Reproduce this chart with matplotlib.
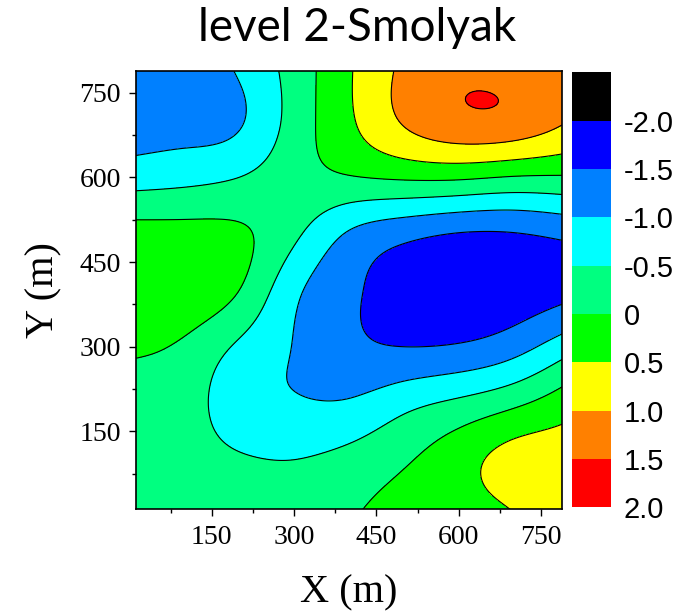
import matplotlib
matplotlib.use("Agg")
import matplotlib.pyplot as plt
import numpy as np
from matplotlib.colors import ListedColormap, BoundaryNorm
from matplotlib.ticker import MultipleLocator

# sampled field values, one row per y node (top row first)
x_nodes = [12, 100, 200, 300, 400, 500, 600, 700, 788]
y_nodes = [788, 700, 600, 500, 400, 300, 200, 100, 12]
z_rows = [
    [-1.30, -1.30, -0.95, -0.30, 0.45, 1.10, 1.40, 1.35, 1.30],
    [-1.25, -1.20, -1.05, -0.30, 0.42, 1.05, 1.38, 1.35, 1.05],
    [-0.72, -0.65, -0.50, -0.20, -0.03, 0.07, 0.08, -0.03, -0.05],
    [0.20, 0.18, 0.08, -0.40, -1.05, -1.35, -1.52, -1.52, -1.40],
    [0.45, 0.35, 0.00, -0.88, -1.40, -1.75, -1.90, -1.80, -1.65],
    [0.08, -0.08, -0.58, -1.02, -1.38, -1.50, -1.45, -1.20, -0.75],
    [-0.20, -0.30, -0.78, -0.95, -0.95, -0.65, -0.40, -0.10, 0.25],
    [-0.20, -0.30, -0.45, -0.50, -0.35, -0.06, 0.30, 0.68, 0.75],
    [-0.15, -0.20, -0.25, -0.30, -0.08, 0.20, 0.30, 0.52, 0.85],
]

levels = [-2.5, -2.0, -1.5, -1.0, -0.5, 0.0, 0.5, 1.0, 1.5, 2.0]
level_colors = ["#000000", "#0000FF", "#0080FF", "#00FFFF", "#00FF80",
                "#00FF00", "#FFFF00", "#FF8000", "#FF0000"]
cbar_ticks = [-2.0, -1.5, -1.0, -0.5, 0.0, 0.5, 1.0, 1.5, 2.0]
cbar_labels = ["-2.0", "-1.5", "-1.0", "-0.5", "0", "0.5", "1.0", "1.5", "2.0"]

x_lim = (12, 788)
y_lim = (12, 788)


def spline_matrix(nodes, pts):
    """Natural cubic spline as a linear map from node values to values at pts."""
    t = np.asarray(nodes, float)
    n = len(t)
    h = np.diff(t)
    # second derivatives M = K @ y
    A = np.zeros((n, n))
    B = np.zeros((n, n))
    A[0, 0] = A[-1, -1] = 1.0
    for i in range(1, n - 1):
        A[i, i - 1] = h[i - 1]
        A[i, i] = 2 * (h[i - 1] + h[i])
        A[i, i + 1] = h[i]
        B[i, i + 1] += 6 / h[i]
        B[i, i] -= 6 / h[i] + 6 / h[i - 1]
        B[i, i - 1] += 6 / h[i - 1]
    K = np.linalg.solve(A, B)
    pts = np.asarray(pts, float)
    idx = np.clip(np.searchsorted(t, pts) - 1, 0, n - 2)
    S = np.zeros((len(pts), n))
    for r, (p, i) in enumerate(zip(pts, idx)):
        hi = h[i]
        a = t[i + 1] - p
        b = p - t[i]
        S[r] += K[i] * (a ** 3 / (6 * hi) - a * hi / 6)
        S[r] += K[i + 1] * (b ** 3 / (6 * hi) - b * hi / 6)
        S[r, i] += a / hi
        S[r, i + 1] += b / hi
    return S


z_grid = np.array(z_rows)[::-1]          # bottom row first
y_up = np.array(y_nodes)[::-1]
xs = np.linspace(*x_lim, 400)
ys = np.linspace(*y_lim, 400)
Z = spline_matrix(y_up, ys) @ z_grid @ spline_matrix(x_nodes, xs).T
Z = np.clip(Z, levels[0] + 1e-3, levels[-1] - 1e-3)
X, Y = np.meshgrid(xs, ys)

cmap = ListedColormap(level_colors)
norm = BoundaryNorm(levels, cmap.N)

fig = plt.figure(figsize=(6.87, 6.13), dpi=100)
ax = fig.add_axes([0.198, 0.169, 0.620, 0.715])
cf = ax.contourf(X, Y, Z, levels=levels, cmap=cmap, norm=norm)
ax.contour(X, Y, Z, levels=levels[1:-1], colors="k", linewidths=0.8,
           linestyles="solid")

ax.set_xlim(*x_lim)
ax.set_ylim(*y_lim)
ax.set_xticks([150, 300, 450, 600, 750])
ax.set_yticks([150, 300, 450, 600, 750])
ax.xaxis.set_minor_locator(MultipleLocator(75))
ax.yaxis.set_minor_locator(MultipleLocator(75))
ax.tick_params(which="both", direction="out", top=False, right=False, width=1)
ax.tick_params(which="major", length=5, pad=6)
ax.tick_params(which="minor", length=3)
for lab in ax.get_xticklabels() + ax.get_yticklabels():
    lab.set_fontfamily("Liberation Serif")
    lab.set_fontsize(20)
for sp in ax.spines.values():
    sp.set_linewidth(1.2)

ax.set_xlabel("X (m)", fontfamily="Liberation Serif", fontsize=29, labelpad=18)
ax.set_ylabel("Y (m)", fontfamily="Liberation Serif", fontsize=29, labelpad=12)
ax.set_title("level 2-Smolyak", fontfamily="Lato", fontsize=33, pad=22, x=0.52)

cax = fig.add_axes([0.833, 0.1724, 0.0563, 0.7096])
cb = fig.colorbar(cf, cax=cax)
cb.outline.set_visible(False)
cax.invert_yaxis()
cb.set_ticks(cbar_ticks)
cb.set_ticklabels(cbar_labels)
cax.minorticks_off()
cax.tick_params(which="both", length=0, pad=9)
for lab in cax.get_yticklabels():
    lab.set_fontfamily("Liberation Sans")
    lab.set_fontsize(21)

fig.savefig("out.png", dpi=100)
